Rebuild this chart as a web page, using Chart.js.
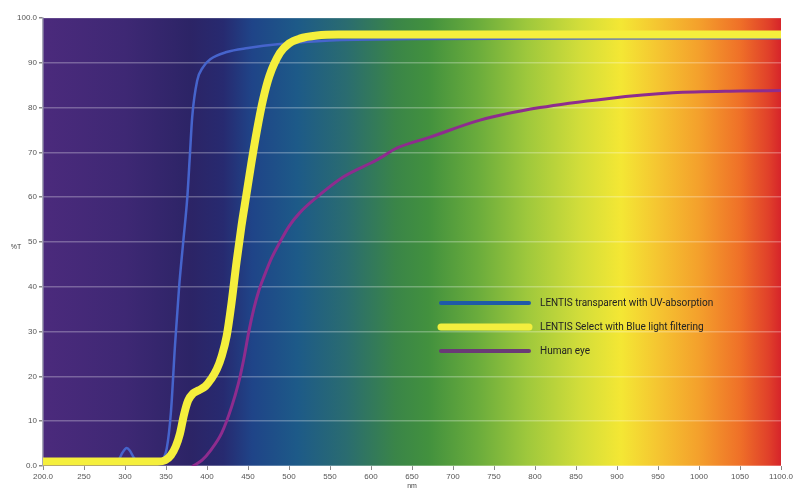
<!DOCTYPE html>
<html>
<head>
<meta charset="utf-8">
<script src="https://cdn.jsdelivr.net/npm/chart.js@4.4.1/dist/chart.umd.min.js"></script>
<style>
html,body{margin:0;padding:0;background:#fff;}
#wrap{width:800px;height:488px;}
</style>
</head>
<body>
<div id="wrap"><canvas id="c" width="800" height="488"></canvas></div>
<script>
// ---- data ----
const seriesLabels = ['LENTIS transparent with UV-absorption', 'LENTIS Select with Blue light filtering', 'Human eye'];
const xTickLabels = ['200.0','250','300','350','400','450','500','550','600','650','700','750','800','850','900','950','1000','1050','1100.0'];
const yTickLabels = ['0.0','10','20','30','40','50','60','70','80','90','100.0'];

const uvNm = [200,280,292,297,302,306,311,318,340,346,351,356,361,366,371,376,379,382,388,395,404,424,450,489,550,650,800,1100];
const uvT  = [1.0,1.0,1.4,3.0,4.0,3.4,1.8,1.0,1.0,1.5,4,12,27,40,50,60,69,78,86,89,90.8,92.4,93.3,94.2,95,95.3,95.4,95.5];

const selNm = [200,340,349,356,362,367,372,377,383,390,398,405,412,418,424,430,436,442,448,454,461,468,476,489,500,513,534,560,700,1100];
const selT  = [1.0,1.0,1.3,2.4,4.4,7.2,11.5,14.6,16.2,16.9,17.8,19.4,21.6,24.6,29,36.5,45.5,53.5,60.5,67.5,75,81.5,87,92.2,94.3,95.4,96.1,96.3,96.3,96.3];

const eyeNm = [383,394,404,418,430,438,445,451,457,463,470,479,489,500,513,534,566,607,632,672,733,806,888,968,1050,1100];
const eyeT  = [0,1.3,3.4,7.4,13.2,18.2,24,30,35,39,42.5,46.5,50,53.5,56.5,60,64.5,68.3,71,73.4,77.2,80,82,83.3,83.7,83.8];

const zip = (xs, ys) => xs.map((x, i) => ({x: x, y: ys[i]}));

// ---- plugins ----
const spectrumBg = {
  id: 'spectrumBg',
  beforeDraw(chart) {
    const {ctx, chartArea: a} = chart;
    ctx.save();
    ctx.fillStyle = '#ffffff';
    ctx.fillRect(0, 0, chart.width, chart.height);
    const g = ctx.createLinearGradient(a.left, 0, a.right, 0);
    const stops = [
      [200,'#4b2a7c'],[300,'#3e2874'],[380,'#2c2466'],[420,'#272a70'],[455,'#1f4488'],
      [510,'#1d5a88'],[570,'#2a6c70'],[630,'#3a8548'],[670,'#42913e'],[730,'#6aac3c'],
      [790,'#9ec83c'],[855,'#d2dd3a'],[905,'#f4e734'],[950,'#f5c531'],[1000,'#f4a02c'],
      [1050,'#ef7028'],[1085,'#e0402a'],[1100,'#d6242a']
    ];
    stops.forEach(s => g.addColorStop((s[0]-200)/900, s[1]));
    ctx.fillStyle = g;
    ctx.fillRect(a.left, a.top, a.right - a.left, a.bottom - a.top);
    ctx.restore();
  }
};

const customLegend = {
  id: 'customLegend',
  afterDatasetsDraw(chart) {
    const {ctx} = chart;
    const rows = [
      {y: 303, w: 4},
      {y: 327, w: 7},
      {y: 351, w: 4}
    ];
    const legendColors = ['#1f5aa8', '#f3ee3e', '#6a3a76'];
    ctx.save();
    rows.forEach((r, i) => {
      ctx.strokeStyle = legendColors[i];
      ctx.lineWidth = r.w;
      ctx.lineCap = 'round';
      ctx.beginPath();
      ctx.moveTo(441, r.y);
      ctx.lineTo(529, r.y);
      ctx.stroke();
      ctx.fillStyle = '#222222';
      ctx.font = '10px Roboto';
      ctx.textBaseline = 'middle';
      ctx.textAlign = 'left';
      ctx.fillText(seriesLabels[i], 540, r.y);
    });
    // axis titles
    ctx.fillStyle = '#444444';
    ctx.font = '7px "Liberation Sans"';
    ctx.textAlign = 'center';
    ctx.fillText('%T', 16, 247);
    ctx.textBaseline = 'top';
    ctx.fillText('nm', 412, 483);
    ctx.restore();
  }
};

new Chart(document.getElementById('c'), {
  type: 'line',
  data: {
    datasets: [
      {label: seriesLabels[0], data: zip(uvNm, uvT), borderColor: '#4664cc', borderWidth: 2.5, order: 2},
      {label: seriesLabels[1], data: zip(selNm, selT), borderColor: '#f5ef3c', borderWidth: 8, order: 1},
      {label: seriesLabels[2], data: zip(eyeNm, eyeT), borderColor: '#8e2c8e', borderWidth: 3, order: 0}
    ]
  },
  options: {
    responsive: false,
    animation: false,
    devicePixelRatio: 1,
    layout: {padding: {left: 0, right: 19, top: 18, bottom: 0}},
    elements: {
      point: {radius: 0},
      line: {cubicInterpolationMode: 'monotone', fill: false, borderCapStyle: 'round', borderJoinStyle: 'round'}
    },
    plugins: {legend: {display: false}, tooltip: {enabled: false}},
    scales: {
      x: {
        type: 'linear', min: 200, max: 1100,
        afterFit(s) { s.height = 22; },
        ticks: {
          stepSize: 50, autoSkip: false, maxRotation: 0, padding: 2,
          color: '#555', font: {size: 8, family: 'Liberation Sans'},
          callback: (v, i) => xTickLabels[i]
        },
        grid: {drawOnChartArea: false, drawTicks: true, tickLength: 4, color: '#888'},
        border: {display: false}
      },
      y: {
        min: 0, max: 100,
        afterFit(s) { s.width = 43; },
        ticks: {
          stepSize: 10, padding: 2,
          color: '#555', font: {size: 8, family: 'Liberation Sans'},
          callback: (v, i) => yTickLabels[i]
        },
        grid: {color: 'rgba(255,255,255,0.28)', lineWidth: 1.5, drawTicks: true, tickLength: 4, tickColor: '#888'},
        border: {display: true, color: '#a8a8b8', width: 1.5}
      }
    }
  },
  plugins: [spectrumBg, customLegend]
});
</script>
</body>
</html>
